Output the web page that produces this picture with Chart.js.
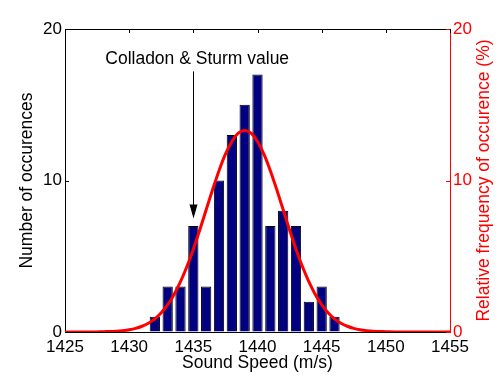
<!DOCTYPE html>
<html>
<head>
<meta charset="utf-8">
<script src="https://cdn.jsdelivr.net/npm/chart.js@4/dist/chart.umd.min.js"></script>
<style>
  html, body { margin: 0; padding: 0; background: #fff; }
  #wrap { width: 500px; height: 379px; }
</style>
</head>
<body>
<div id="wrap"><canvas id="c" width="500" height="379"></canvas></div>
<script>
// ---- data ----
const speeds = [1432, 1433, 1434, 1435, 1436, 1437, 1438, 1439, 1440, 1441, 1442, 1443, 1444, 1445, 1446];
const counts = [1, 3, 3, 7, 3, 10, 13, 15, 17, 7, 8, 7, 2, 3, 1];

const curveX = [1425, 1426, 1427, 1428, 1429, 1429.5, 1430, 1430.5, 1431, 1431.5, 1432, 1432.5, 1433, 1433.5,
  1434, 1434.5, 1435, 1435.5, 1436, 1436.5, 1437, 1437.5, 1438, 1438.5, 1439, 1439.5, 1440, 1440.5, 1441,
  1441.5, 1442, 1442.5, 1443, 1443.5, 1444, 1444.5, 1445, 1445.5, 1446, 1446.5, 1447, 1447.5, 1448, 1448.5,
  1449, 1450, 1451, 1452, 1453, 1454, 1455];
const curvePct = [0, 0, 0, 0.02, 0.05, 0.09, 0.15, 0.24, 0.38, 0.58, 0.87, 1.27, 1.80, 2.48,
  3.32, 4.32, 5.47, 6.73, 8.07, 9.40, 10.65, 11.74, 12.58, 13.12, 13.30, 13.12, 12.58, 11.74, 10.65,
  9.40, 8.07, 6.73, 5.47, 4.32, 3.32, 2.48, 1.80, 1.27, 0.87, 0.58, 0.38, 0.24, 0.15, 0.09,
  0.05, 0.02, 0, 0, 0, 0, 0];

const xTicks = [1425, 1430, 1435, 1440, 1445, 1450, 1455];
const countTicks = [0, 10, 20];
const pctTicks = [0, 10, 20];

const annotationText = 'Colladon & Sturm value';
const annotationTextAt = { x: 1435.3, y: 18.0 };
const arrowFrom = { x: 1435, y: 17.2 };
const arrowTo = { x: 1435, y: 7.5 };

const xTitle = 'Sound Speed (m/s)';
const yTitle = 'Number of occurences';
const y2Title = 'Relative frequency of occurence (%)';

// ---- styling ----
const FONT = '"Liberation Sans", Arial, Helvetica, sans-serif';
const RED = '#ff0000';

const decor = {
  id: 'decor',
  afterDatasetsDraw(chart) {
    const { ctx, chartArea: { left, right, top, bottom }, scales: { x, y, y2 } } = chart;
    ctx.save();
    // top border
    ctx.strokeStyle = '#000';
    ctx.lineWidth = 1;
    ctx.beginPath();
    ctx.moveTo(left, Math.round(top) + 0.5);
    ctx.lineTo(right, Math.round(top) + 0.5);
    // top ticks (inward)
    xTicks.forEach(v => {
      const px = Math.round(x.getPixelForValue(v)) + 0.5;
      ctx.moveTo(px, top);
      ctx.lineTo(px, top + 4);
    });
    // left ticks (inward)
    countTicks.forEach(v => {
      const py = Math.round(y.getPixelForValue(v)) + 0.5;
      ctx.moveTo(left, py);
      ctx.lineTo(left + 4, py);
    });
    ctx.stroke();
    // right ticks (inward, red)
    ctx.strokeStyle = RED;
    ctx.beginPath();
    pctTicks.forEach(v => {
      const py = Math.round(y2.getPixelForValue(v)) + 0.5;
      ctx.moveTo(right, py);
      ctx.lineTo(right - 4, py);
    });
    ctx.stroke();

    // annotation
    ctx.fillStyle = '#000';
    ctx.strokeStyle = '#000';
    ctx.font = '17.5px ' + FONT;
    ctx.textAlign = 'center';
    ctx.textBaseline = 'middle';
    ctx.fillText(annotationText, x.getPixelForValue(annotationTextAt.x), y.getPixelForValue(annotationTextAt.y));
    const ax = Math.round(x.getPixelForValue(arrowFrom.x)) + 0.5;
    const ay0 = y.getPixelForValue(arrowFrom.y);
    const ay1 = y.getPixelForValue(arrowTo.y);
    ctx.beginPath();
    ctx.moveTo(ax, ay0);
    ctx.lineTo(ax, ay1 - 12);
    ctx.stroke();
    ctx.beginPath();
    ctx.moveTo(ax, ay1);
    ctx.lineTo(ax - 4, ay1 - 14);
    ctx.lineTo(ax + 4, ay1 - 14);
    ctx.closePath();
    ctx.fill();

    // right axis title (reads bottom to top)
    ctx.save();
    ctx.translate(chart.width - 16, (top + bottom) / 2);
    ctx.rotate(-Math.PI / 2);
    ctx.fillStyle = RED;
    ctx.font = '17.5px ' + FONT;
    ctx.textAlign = 'center';
    ctx.textBaseline = 'middle';
    ctx.fillText(y2Title, 0, 0);
    ctx.restore();

    ctx.restore();
  }
};

new Chart(document.getElementById('c'), {
  type: 'bar',
  data: {
    datasets: [
      {
        type: 'line',
        label: 'Relative frequency',
        data: curveX.map((v, i) => ({ x: v, y: curvePct[i] })),
        yAxisID: 'y2',
        borderColor: RED,
        borderWidth: 3,
        pointRadius: 0,
        cubicInterpolationMode: 'monotone',
        fill: false,
        order: 0
      },
      {
        type: 'bar',
        label: 'Occurences',
        data: speeds.map((v, i) => ({ x: v, y: counts[i] })),
        yAxisID: 'y',
        backgroundColor: '#000080',
        borderColor: '#000000',
        borderWidth: 1,
        categoryPercentage: 1.0,
        barPercentage: 0.8,
        order: 1
      }
    ]
  },
  options: {
    responsive: false,
    animation: false,
    devicePixelRatio: 1,
    layout: { padding: { top: 29, left: 0, right: 0, bottom: 0 } },
    plugins: { legend: { display: false }, tooltip: { enabled: false } },
    scales: {
      x: {
        type: 'linear',
        position: 'bottom',
        min: 1425, max: 1455,
        offset: false,
        afterBuildTicks: s => { s.ticks = xTicks.map(v => ({ value: v })); },
        afterFit: s => { s.height = 47; },
        grid: { display: true, drawOnChartArea: false, drawTicks: false },
        border: { display: true, color: '#000', width: 1 },
        ticks: { color: '#000', font: { family: FONT, size: 17 }, padding: 5, maxRotation: 0, autoSkip: false,
          callback: v => String(v) },
        title: { display: true, text: xTitle, color: '#000', font: { family: FONT, size: 17.5 }, padding: { top: 0, bottom: 5 } }
      },
      y: {
        type: 'linear',
        position: 'left',
        min: 0, max: 20,
        afterBuildTicks: s => { s.ticks = countTicks.map(v => ({ value: v })); },
        afterFit: s => { s.width = 65; },
        grid: { display: true, drawOnChartArea: false, drawTicks: false },
        border: { display: true, color: '#000', width: 1 },
        ticks: { color: '#000', font: { family: FONT, size: 17 }, padding: 3 },
        title: { display: true, text: yTitle, color: '#000', font: { family: FONT, size: 17.5 }, padding: { top: 17, bottom: 0 } }
      },
      y2: {
        type: 'linear',
        position: 'right',
        min: 0, max: 20,
        afterBuildTicks: s => { s.ticks = pctTicks.map(v => ({ value: v })); },
        afterFit: s => { s.width = 50; },
        grid: { display: true, drawOnChartArea: false, drawTicks: false },
        border: { display: true, color: RED, width: 1 },
        ticks: { color: RED, font: { family: FONT, size: 17 }, padding: 3 },
        title: { display: false }
      }
    }
  },
  plugins: [decor]
});
</script>
</body>
</html>
